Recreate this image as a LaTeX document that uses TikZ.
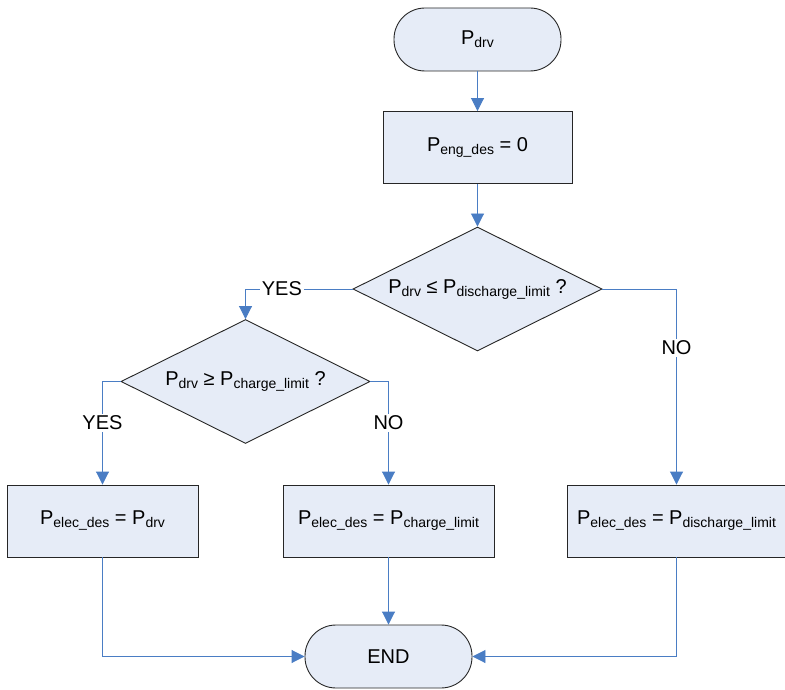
\documentclass[tikz,border=0pt]{standalone}
\usepackage{fontspec}
\setmainfont{Liberation Sans}
\usetikzlibrary{shapes.geometric,arrows.meta}
\definecolor{boxfill}{HTML}{E6ECF7}
\definecolor{conn}{HTML}{4A7DC4}
\newcommand{\mysub}[1]{\lower3pt\hbox{\fontsize{14}{14}\selectfont #1}}
\begin{document}
\begin{tikzpicture}[x=1pt,y=-1pt,
  every node/.style={font=\fontsize{20}{24}\selectfont},
  termbox/.style={draw=black!85, fill=boxfill, line width=0.9pt, minimum width=167pt, minimum height=63pt, rounded corners=31pt, inner sep=0pt},
  procbox/.style={draw=black!85, fill=boxfill, line width=0.9pt, minimum height=72pt, inner sep=0pt},
  decbox/.style={draw=black!85, fill=boxfill, line width=0.9pt, diamond, minimum width=249pt, minimum height=124pt, inner sep=0pt},
  conline/.style={draw=conn, line width=0.9pt, -{Triangle[length=13pt,width=13pt]}},
  lbl/.style={fill=white, inner sep=2pt}
]
\useasboundingbox (0,0) rectangle (785,690);
\node[termbox] (start) at (477.5,39.5) {P\mysub{drv}};
\node[procbox, minimum width=189pt] (eng) at (477.5,147.5) {P\mysub{eng\_des} = 0};
\node[decbox] (d1) at (477.5,289) {};
\node (d1t) at (477.5,289) {P\mysub{drv} ≤ P\mysub{discharge\_limit} ?};
\node[decbox] (d2) at (245.5,381.5) {};
\node (d2t) at (245.5,381.5) {P\mysub{drv} ≥ P\mysub{charge\_limit} ?};
\node[procbox, minimum width=191pt] (b1) at (102.5,521) {P\mysub{elec\_des} = P\mysub{drv}};
\node[procbox, minimum width=211pt] (b2) at (388.5,521) {P\mysub{elec\_des} = P\mysub{charge\_limit}};
\node[procbox, minimum width=219pt] (b3) at (676.5,521) {P\mysub{elec\_des} = P\mysub{discharge\_limit}};
\node[termbox] (end) at (388.5,656.5) {END};

\draw[conline] (start) -- (eng);
\draw[conline] (eng) -- (d1.north);
\draw[conline] (d1.west) -| node[lbl, pos=0.33] (yes1) {YES} (d2.north);
\draw[conline] (d2.west) -| node[lbl, pos=0.70] (yes2) {YES} (b1.north);
\draw[conline] (d2.east) -| node[lbl, pos=0.70] (no2) {NO} (b2.north);
\draw[conline] (d1.east) -| node[lbl, pos=0.65] (no1) {NO} (b3.north);
\draw[conline] (b1.south) |- (end.west);
\draw[conline] (b2.south) -- (end.north);
\draw[conline] (b3.south) |- (end.east);
\end{tikzpicture}
\end{document}
